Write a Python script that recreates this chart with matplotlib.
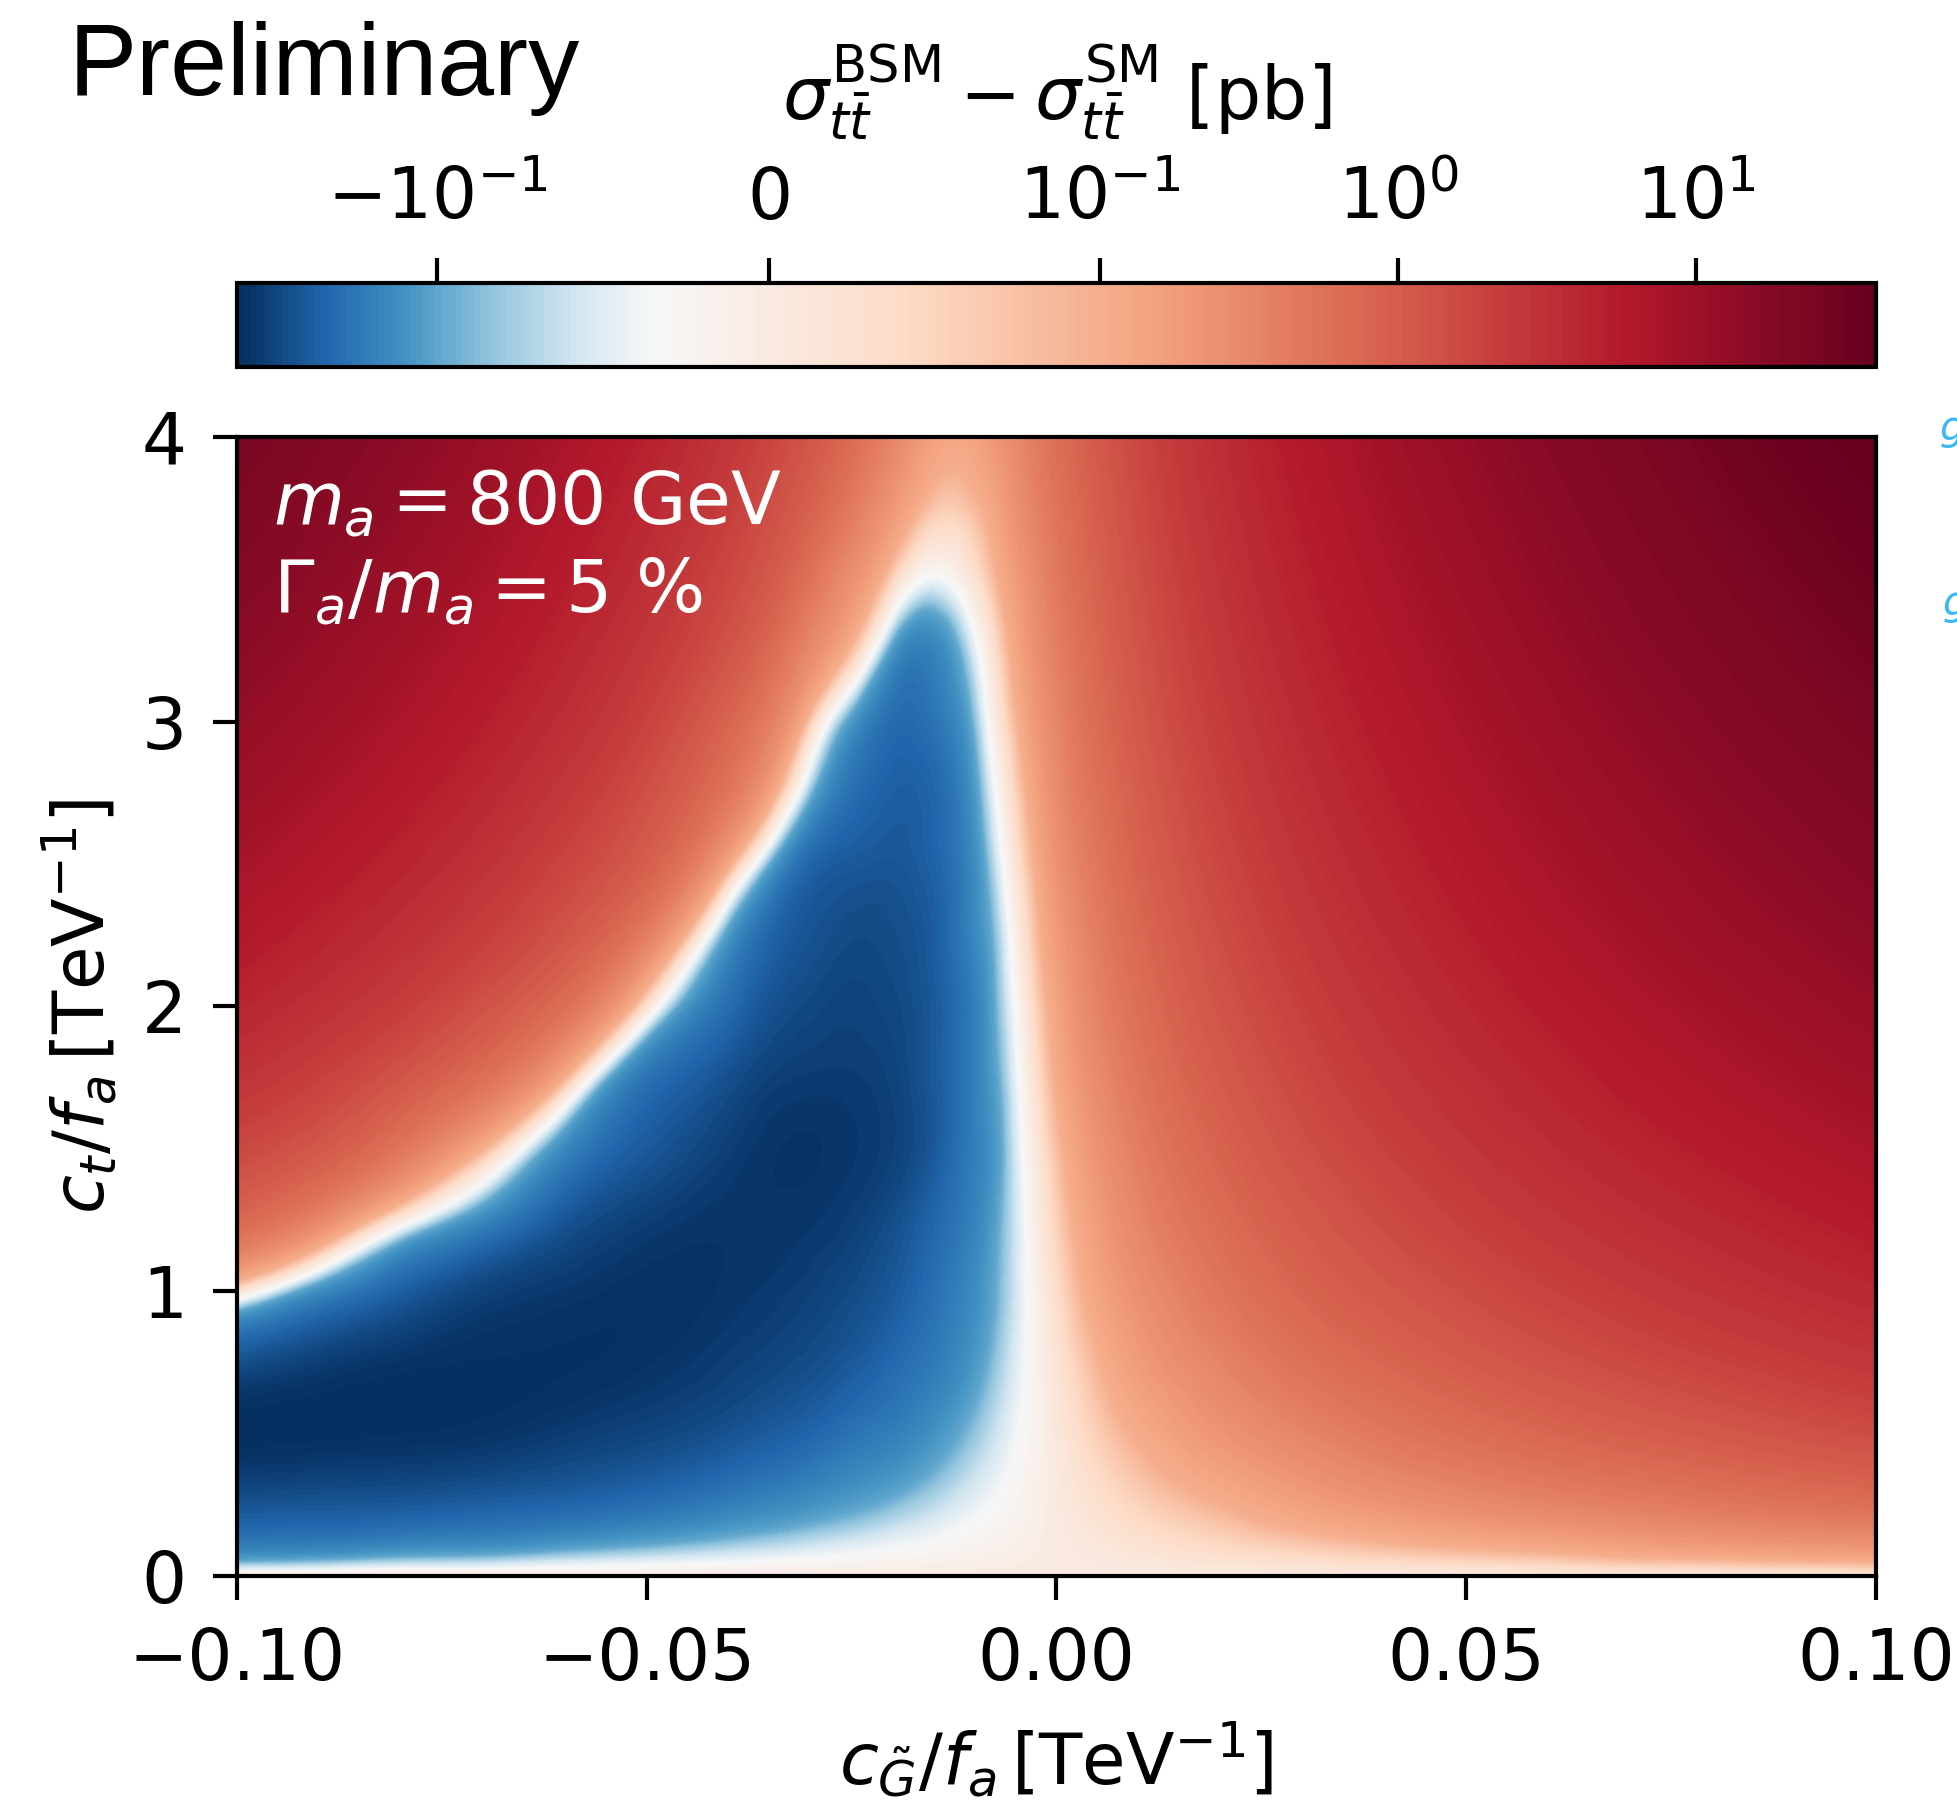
import numpy as np
import matplotlib
matplotlib.use("Agg")
import matplotlib.pyplot as plt
import matplotlib.tri as mtri
from matplotlib import colors, cm

# c_G/f_a grid (TeV^-1), denser around the blue spike
cg_values = [-0.10, -0.09, -0.08, -0.07, -0.06, -0.05, -0.04, -0.035, -0.03,
             -0.025, -0.02, -0.015, -0.01, -0.0075, -0.005, -0.0025, 0.0,
             0.005, 0.01, 0.02, 0.03, 0.04, 0.05, 0.06, 0.07, 0.08, 0.09, 0.10]
# c_t/f_a grid (TeV^-1)
ct_values = [0.0, 0.1, 0.25, 0.5, 0.75, 1.0, 1.25, 1.5, 1.75, 2.0, 2.25, 2.5,
             2.75, 3.0, 3.25, 3.5, 3.75, 4.0]

# sigma_BSM - sigma_SM [pb], one row per ct value
xsec_diff = [
    [0.0] * 28,
    [-0.17, -0.16, -0.14, -0.13, -0.11, -0.092, -0.074, -0.065, -0.056, -0.047, -0.038, -0.029, -0.019, -0.015,
     -0.010, -0.005, 0.0, 0.010, 0.020, 0.040, 0.060, 0.081, 0.10, 0.12, 0.15, 0.17, 0.19, 0.21],
    [-0.30, -0.29, -0.28, -0.26, -0.24, -0.21, -0.17, -0.15, -0.13, -0.11, -0.090, -0.068, -0.045, -0.034,
     -0.022, -0.010, 0.002, 0.027, 0.052, 0.10, 0.16, 0.22, 0.28, 0.34, 0.40, 0.47, 0.54, 0.61],
    [-0.46, -0.46, -0.45, -0.43, -0.39, -0.35, -0.30, -0.27, -0.24, -0.20, -0.17, -0.13, -0.084, -0.062,
     -0.039, -0.016, 0.008, 0.058, 0.11, 0.22, 0.34, 0.48, 0.62, 0.77, 0.93, 1.10, 1.29, 1.48],
    [-0.31, -0.38, -0.43, -0.45, -0.45, -0.43, -0.38, -0.35, -0.32, -0.28, -0.23, -0.18, -0.12, -0.085,
     -0.052, -0.018, 0.018, 0.094, 0.18, 0.35, 0.56, 0.78, 1.03, 1.30, 1.59, 1.90, 2.24, 2.60],
    [0.02, -0.14, -0.26, -0.36, -0.41, -0.44, -0.42, -0.40, -0.37, -0.33, -0.28, -0.21, -0.14, -0.10,
     -0.059, -0.014, 0.033, 0.14, 0.25, 0.50, 0.80, 1.13, 1.50, 1.92, 2.37, 2.87, 3.40, 3.97],
    [0.75, 0.32, 0.0, -0.15, -0.29, -0.38, -0.42, -0.42, -0.41, -0.38, -0.32, -0.24, -0.16, -0.11,
     -0.060, -0.006, 0.053, 0.18, 0.33, 0.66, 1.06, 1.52, 2.05, 2.63, 3.28, 3.99, 4.77, 5.60],
    [1.67, 1.10, 0.50, 0.10, -0.15, -0.28, -0.38, -0.42, -0.43, -0.41, -0.37, -0.28, -0.17, -0.12,
     -0.057, 0.007, 0.077, 0.23, 0.41, 0.84, 1.36, 1.96, 2.66, 3.44, 4.32, 5.29, 6.34, 7.49],
    [2.84, 2.01, 1.20, 0.60, 0.10, -0.20, -0.31, -0.37, -0.39, -0.39, -0.36, -0.28, -0.17, -0.11,
     -0.046, 0.027, 0.11, 0.29, 0.51, 1.03, 1.68, 2.45, 3.34, 4.35, 5.49, 6.74, 8.12, 9.63],
    [4.26, 3.13, 2.16, 1.30, 0.60, 0.02, -0.22, -0.30, -0.34, -0.36, -0.34, -0.28, -0.17, -0.10,
     -0.032, 0.05, 0.14, 0.36, 0.61, 1.24, 2.03, 2.97, 4.08, 5.35, 6.78, 8.37, 10.1, 12.0],
    [5.94, 4.45, 3.17, 2.09, 1.21, 0.40, -0.12, -0.24, -0.30, -0.33, -0.32, -0.27, -0.15, -0.089,
     -0.012, 0.078, 0.18, 0.42, 0.72, 1.46, 2.40, 3.55, 4.90, 6.45, 8.20, 10.2, 12.3, 14.7],
    [7.88, 5.99, 4.35, 2.96, 1.82, 0.93, 0.12, -0.10, -0.24, -0.28, -0.29, -0.25, -0.14, -0.066,
     0.016, 0.11, 0.23, 0.50, 0.84, 1.70, 2.81, 4.17, 5.78, 7.64, 9.75, 12.1, 14.7, 17.6],
    [10.1, 7.73, 5.69, 3.95, 2.52, 1.39, 0.50, 0.15, -0.09, -0.21, -0.26, -0.24, -0.12, -0.038,
     0.048, 0.15, 0.28, 0.58, 0.96, 1.95, 3.24, 4.83, 6.73, 8.92, 11.4, 14.2, 17.3, 20.7],
    [12.5, 9.68, 7.20, 5.08, 3.32, 1.92, 0.80, 0.40, 0.06, -0.12, -0.22, -0.20, -0.09, -0.004,
     0.087, 0.20, 0.33, 0.67, 1.10, 2.22, 3.70, 5.54, 7.74, 10.3, 13.2, 16.5, 20.2, 24.2],
    [15.2, 11.8, 8.87, 6.33, 4.21, 2.52, 1.25, 0.70, 0.30, 0.08, -0.12, -0.16, -0.05, 0.03,
     0.13, 0.25, 0.39, 0.76, 1.23, 2.50, 4.19, 6.30, 8.83, 11.8, 15.2, 19.0, 23.2, 27.8],
    [18.2, 14.2, 10.7, 7.71, 5.20, 3.19, 1.66, 1.08, 0.55, 0.25, 0.05, -0.04, 0.02, 0.087,
     0.18, 0.30, 0.46, 0.86, 1.38, 2.80, 4.70, 7.09, 9.98, 13.4, 17.2, 21.6, 26.4, 31.8],
    [21.4, 16.8, 12.7, 9.22, 6.29, 3.92, 2.12, 1.43, 0.88, 0.45, 0.20, 0.07, 0.084, 0.14,
     0.24, 0.37, 0.53, 0.96, 1.54, 3.11, 5.24, 7.94, 11.2, 15.0, 19.4, 24.4, 29.9, 35.9],
    [24.9, 19.5, 14.9, 10.9, 7.47, 4.73, 2.62, 1.81, 1.16, 0.67, 0.34, 0.16, 0.15, 0.21,
     0.30, 0.43, 0.61, 1.08, 1.70, 3.44, 5.82, 8.83, 12.5, 16.8, 21.7, 27.3, 33.5, 39.9],
]

cbar_ticks = [-0.1, 0, 0.1, 1, 10]
cbar_ticklabels = [r"$-10^{-1}$", r"$0$", r"$10^{-1}$", r"$10^{0}$", r"$10^{1}$"]
x_ticks = [-0.10, -0.05, 0.00, 0.05, 0.10]
y_ticks = [0, 1, 2, 3, 4]

FS = 51

plt.rcParams["font.family"] = ["DejaVu Sans"]
plt.rcParams["axes.linewidth"] = 3.0

# RdBu_r with the blue half squeezed, white sits just left of zero
base = plt.get_cmap("RdBu_r")
cmap = colors.ListedColormap(np.vstack([base(np.linspace(0, 0.5, 66)),
                                        base(np.linspace(0.5, 1, 190))]))
norm = colors.SymLogNorm(linthresh=0.1, linscale=1.0, vmin=-0.47, vmax=40.0, base=10)

fig = plt.figure(figsize=(19.58, 18.10), dpi=100)
ax = fig.add_axes([0.1210, 0.1293, 0.8371, 0.6293])
cax = fig.add_axes([0.1210, 0.7972, 0.8371, 0.0464])

# two triangles per grid cell, x stretched so the cells are roughly square
nx, ny = len(cg_values), len(ct_values)
cg_grid, ct_grid = np.meshgrid(cg_values, ct_values)
idx = np.arange(nx * ny).reshape(ny, nx)
triangles = []
for j in range(ny - 1):
    for i in range(nx - 1):
        a, b, c, d = idx[j, i], idx[j, i + 1], idx[j + 1, i], idx[j + 1, i + 1]
        triangles.append([a, b, d])
        triangles.append([a, d, c])
stretch = 20.0
tri_s = mtri.Triangulation(cg_grid.ravel() * stretch, ct_grid.ravel(), triangles)
z = np.array(xsec_diff).ravel()
refiner = mtri.UniformTriRefiner(tri_s)
tri_r, z_r = refiner.refine_field(z, triinterpolator=mtri.CubicTriInterpolator(tri_s, z),
                                  subdiv=3)
tri_plot = mtri.Triangulation(tri_r.x / stretch, tri_r.y, tri_r.triangles)

levels = np.asarray(norm.inverse(np.linspace(0, 1, 257)))
ax.tricontourf(tri_plot, z_r, levels=levels, cmap=cmap, norm=norm,
               extend="both", antialiased=False)
ax.set_xlim(-0.1, 0.1)
ax.set_ylim(0, 4)
ax.set_xticks(x_ticks)
ax.set_yticks(y_ticks)
ax.tick_params(labelsize=FS, length=17, width=3, pad=19)
ax.set_xlabel(r"$c_{\tilde{G}}/f_a\,[\mathrm{TeV}^{-1}]$", fontsize=FS, labelpad=18)
ax.set_ylabel(r"$c_t/f_a\,[\mathrm{TeV}^{-1}]$", fontsize=FS, labelpad=16)

ax.text(0.022, 0.923, r"$m_a = 800\ \mathrm{GeV}$", transform=ax.transAxes,
        color="white", fontsize=52.5, va="baseline", ha="left")
ax.text(0.022, 0.846, r"$\Gamma_a/m_a = 5\ \%$", transform=ax.transAxes,
        color="white", fontsize=52.5, va="baseline", ha="left")

sm = cm.ScalarMappable(norm=norm, cmap=cmap)
cbar = fig.colorbar(sm, cax=cax, orientation="horizontal")
cax.xaxis.set_ticks_position("top")
cax.xaxis.set_label_position("top")
cbar.set_ticks(cbar_ticks)
cbar.set_ticklabels(cbar_ticklabels)
cax.minorticks_off()
cax.tick_params(labelsize=FS, length=18, width=3, pad=17)
cbar.outline.set_linewidth(3)
cbar.set_label(r"$\sigma_{t\bar{t}}^{\mathrm{BSM}} - \sigma_{t\bar{t}}^{\mathrm{SM}}$ [pb]",
               fontsize=FS * 1.03, labelpad=33)

fig.text(69 / 1958, 1 - 95 / 1810, "Preliminary", family=["Liberation Sans", "DejaVu Sans"],
         fontsize=73.5, va="baseline", ha="left")
fig.text(1940 / 1958, 1 - 440 / 1810, "g", color="#3cb9f2", fontsize=29,
         style="italic", va="baseline", ha="left")
fig.text(1943 / 1958, 1 - 615 / 1810, "g", color="#3cb9f2", fontsize=29,
         style="italic", va="baseline", ha="left")

fig.savefig("out.png", dpi=100, facecolor="white")
